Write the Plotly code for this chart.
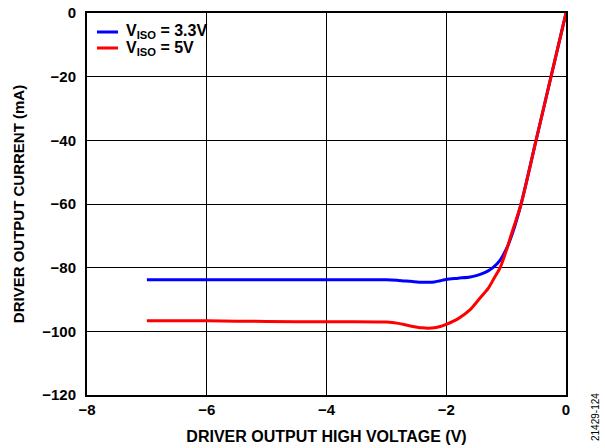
import plotly.graph_objects as go

x_blue = [-7.0, -6.0, -5.0, -4.0, -3.0, -2.8, -2.6, -2.4, -2.3, -2.2, -2.1, -2.0, -1.8, -1.6,
          -1.5, -1.4, -1.3, -1.22, -1.1, -1.0, -0.9, -0.75, -0.5, -0.25, 0.0]
y_blue = [-83.8, -83.8, -83.8, -83.8, -83.8, -84.0, -84.3, -84.6, -84.6, -84.5, -84.1, -83.7, -83.3, -82.9,
          -82.5, -81.9, -81.0, -80.0, -77.6, -74.3, -69.5, -60.0, -40.0, -20.0, 0.0]

x_red = [-7.0, -6.0, -5.0, -4.0, -3.0, -2.8, -2.6, -2.4, -2.3, -2.2, -2.1, -2.0, -1.8, -1.6,
         -1.47, -1.3, -1.2, -1.1, -1.0, -0.9, -0.75, -0.5, -0.25, 0.0]
y_red = [-96.7, -96.7, -96.9, -97.0, -97.1, -97.5, -98.3, -98.9, -99.0, -98.9, -98.5, -97.8, -96.0, -93.2,
         -90.3, -86.5, -83.3, -80.0, -74.8, -68.8, -60.0, -40.0, -20.0, 0.0]

series_names = ["V<sub>ISO</sub> = 3.3V", "V<sub>ISO</sub> = 5V"]
series_colors = ["#0000ff", "#ff0000"]

x_ticks = [-8, -6, -4, -2, 0]
y_ticks = [0, -20, -40, -60, -80, -100, -120]

font_family = "Arial, Liberation Sans, sans-serif"

fig = go.Figure()
for xs, ys, nm, col in [(x_blue, y_blue, series_names[0], series_colors[0]),
                        (x_red, y_red, series_names[1], series_colors[1])]:
    fig.add_trace(go.Scatter(x=xs, y=ys, mode="lines", name=nm, showlegend=False,
                             line=dict(color=col, width=3, shape="spline", smoothing=0.8)))

axis_common = dict(
    showgrid=True, gridcolor="#000000", gridwidth=1,
    showline=True, linecolor="#000000", linewidth=2, mirror=True,
    zeroline=False, ticks="", automargin=False, ticklabeloverflow="allow",
    tickfont=dict(family=font_family, size=15, color="#000000", weight="bold"),
)

fig.update_xaxes(range=[-8, 0], tickvals=x_ticks, ticktext=[f"{v:g}".replace("-", "−") for v in x_ticks],
                 title=dict(text="<b>DRIVER OUTPUT HIGH VOLTAGE (V)</b>",
                            font=dict(family=font_family, size=16, color="#000000"), standoff=14),
                 **axis_common)
fig.update_yaxes(range=[-120, 0], tickvals=y_ticks, ticktext=[f"{v:g}".replace("-", "−") for v in y_ticks],
                 ticklabelstandoff=6,
                 title=dict(text="<b>DRIVER OUTPUT CURRENT (mA)</b>",
                            font=dict(family=font_family, size=15, color="#000000"), standoff=14),
                 **axis_common)

# plot area: 479 x 382 px
PW, PH = 479.0, 382.0
legend_rows_y = [32, 48]
shapes = []
annotations = []
for i, (nm, col) in enumerate(zip(series_names, series_colors)):
    yp = 1 - (legend_rows_y[i] - 13) / PH
    shapes.append(dict(type="line", xref="paper", yref="paper",
                       x0=10 / PW, x1=31 / PW, y0=yp, y1=yp,
                       line=dict(color=col, width=3)))
    annotations.append(dict(text=f"<b>{nm}</b>", xref="paper", yref="paper",
                            x=37 / PW, y=yp, xanchor="left", yanchor="middle",
                            showarrow=False,
                            font=dict(family=font_family, size=16, color="#000000")))

annotations.append(dict(text="21429-124", x=1.0, y=0.0, xref="paper", yref="paper",
                        xshift=29, yshift=-22, xanchor="center", yanchor="middle",
                        showarrow=False, textangle=-90,
                        font=dict(family=font_family, size=10, color="#000000")))

fig.update_layout(
    width=605, height=448,
    margin=dict(l=87, r=39, t=13, b=53, autoexpand=False),
    paper_bgcolor="white", plot_bgcolor="white",
    showlegend=False,
    shapes=shapes,
    annotations=annotations,
)

fig.write_html("out.html", config={"displayModeBar": False},
               post_script="document.body.style.margin='0';")
